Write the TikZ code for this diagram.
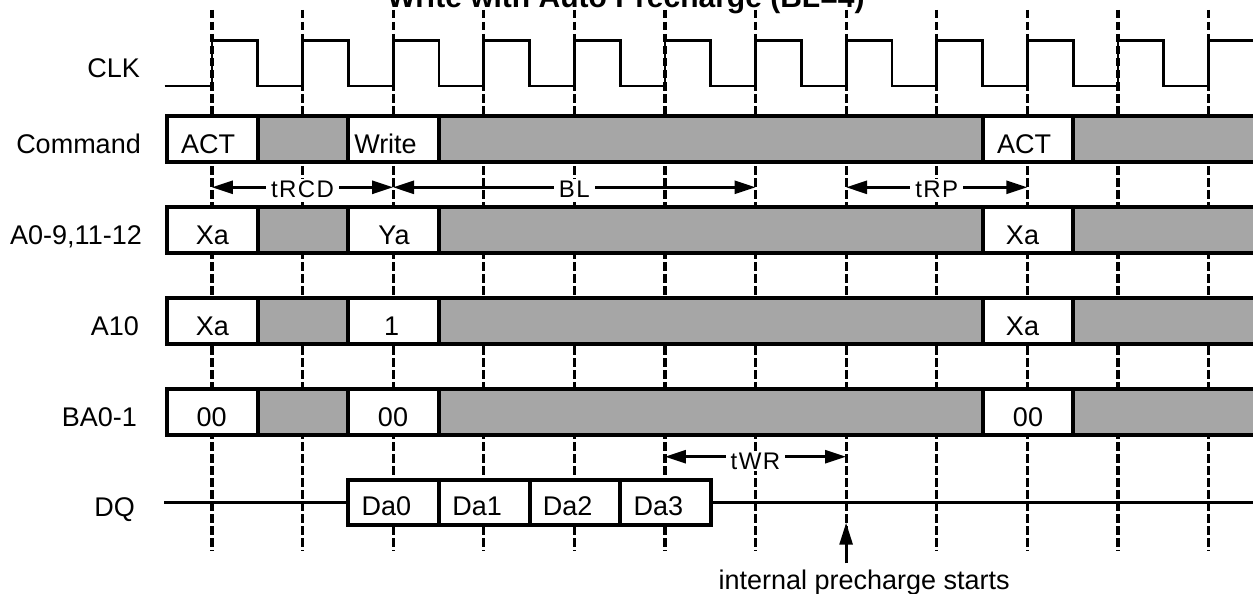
\documentclass[tikz,border=0pt]{standalone}
\usepackage{fontspec}
\setmainfont{Liberation Sans}
\usetikzlibrary{arrows.meta}
\definecolor{barg}{RGB}{166,166,166}
\begin{document}
\begin{tikzpicture}[x=1pt,y=-1pt,
  grid/.style={line width=3.2pt, dash pattern=on 8.5pt off 3.5pt},
  sig/.style={line width=2.8pt, line join=miter},
  bord/.style={line width=4pt},
  lab/.style={anchor=base east, inner sep=0pt, font=\fontsize{27}{32}\selectfont},
  val/.style={anchor=base, inner sep=0pt, font=\fontsize{27}{32}\selectfont},
  dim/.style={line width=2.8pt, {Triangle[length=21pt,width=13pt]}-{Triangle[length=21pt,width=13pt]}},
  dimlab/.style={fill=white, inner xsep=5pt, inner ysep=2pt, font=\fontsize{24}{28}\selectfont\addfontfeature{LetterSpace=6}},
]
\useasboundingbox (0,0) rectangle (1253,594);

% title
\node[anchor=base, inner sep=0pt, font=\fontsize{30}{36}\selectfont\bfseries] (title) at (626,8) {Write with Auto Precharge (BL=4)};

% clock edge grid lines
\foreach \k/\x in {0/211.9,1/302.5,2/393.1,3/483.7,4/574.3,5/664.9,6/755.5,7/846.1,8/936.7,9/1027.3,10/1117.9,11/1208.5}{
  \coordinate (gt\k) at (\x,10);
  \coordinate (gb\k) at (\x,551);
  \draw[grid] (gt\k) -- (gb\k);
}

% CLK
\draw[sig] (164.7,86) -- (211.9,86) |- (257.7,40.7) |- (302.5,86) |- (348.3,40.7) |- (393.1,86)
  |- (438.9,40.7) |- (483.7,86) |- (529.5,40.7) |- (574.3,86) |- (620.1,40.7) |- (664.9,86)
  |- (710.7,40.7) |- (755.5,86) |- (801.3,40.7) |- (846.1,86) |- (891.9,40.7) |- (936.7,86)
  |- (982.5,40.7) |- (1027.3,86) |- (1073.1,40.7) |- (1117.9,86) |- (1163.7,40.7) |- (1208.5,86)
  |- (1262,40.7);

% bus bars
\foreach \T in {116,207,298,389}{
  \pgfmathsetmacro{\B}{\T+46}
  \fill[white] (166.6,\T) rectangle (257.7,\B);
  \fill[barg] (257.7,\T) rectangle (348.3,\B);
  \fill[white] (348.3,\T) rectangle (438.9,\B);
  \fill[barg] (438.9,\T) rectangle (982.5,\B);
  \fill[white] (982.5,\T) rectangle (1073.1,\B);
  \fill[barg] (1073.1,\T) rectangle (1262,\B);
  \draw[bord, line join=miter] (1262,\T) -- (166.6,\T) -- (166.6,\B) -- (1262,\B);
  \foreach \d in {257.7,348.3,438.9,982.5,1073.1}{
    \draw[bord] (\d,\T) -- (\d,\B);
  }
}

% signal labels
\node[lab] (lclk) at (140,77.3) {CLK};
\node[lab] (lcmd) at (141,153) {Command};
\node[lab] (laddr) at (142,244) {A0-9,11-12};
\node[lab] (la10) at (139,335) {A10};
\node[lab] (lba) at (137,426) {BA0-1};
\node[lab] (ldq) at (135,516.5) {DQ};

% bar values
\node[val] (c1) at (208,153) {ACT};
\node[val] (c2) at (385.5,153) {Write};
\node[val] (c3) at (1024,153) {ACT};
\node[val] (a1) at (212.5,244) {Xa};
\node[val] (a2) at (394,244) {Ya};
\node[val] (a3) at (1022.5,244) {Xa};
\node[val] (b1) at (212.5,335) {Xa};
\node[val] (b2) at (391.7,335) {1};
\node[val] (b3) at (1022.5,335) {Xa};
\node[val] (e1) at (211.7,426) {00};
\node[val] (e2) at (393,426) {00};
\node[val] (e3) at (1028,426) {00};

% DQ
\coordinate (dqL) at (164,502.3);
\coordinate (dqA) at (348.3,502.3);
\coordinate (dqB) at (710.7,502.3);
\coordinate (dqR) at (1262,502.3);
\draw[sig] (dqL) -- (dqA);
\draw[sig] (dqB) -- (dqR);
\fill[white] (348.3,480) rectangle (710.7,525);
\draw[bord, line join=miter] (348.3,480) rectangle (710.7,525);
\foreach \d in {438.9,529.5,620.1}{
  \draw[bord] (\d,480) -- (\d,525);
}
\node[val] (q0) at (386.5,515.5) {Da0};
\node[val] (q1) at (477.1,515.5) {Da1};
\node[val] (q2) at (567.7,515.5) {Da2};
\node[val] (q3) at (658.3,515.5) {Da3};

% timing dimensions
\coordinate (d0) at (211.9,187.3);
\coordinate (d2) at (393.1,187.3);
\coordinate (d6) at (755.5,187.3);
\coordinate (d7) at (846.1,187.3);
\coordinate (d9) at (1027.3,187.3);
\draw[dim] (d0) -- (d2);
\draw[dim] (d2) -- (d6);
\draw[dim] (d7) -- (d9);
\node[dimlab] (tRCD) at (302.5,189.5) {tRCD};
\node[dimlab] (tBL) at (574.3,189.5) {BL};
\node[dimlab] (tRP) at (936.7,189.5) {tRP};

\coordinate (w5) at (664.9,456.7);
\coordinate (w7) at (846.1,456.7);
\draw[dim] (w5) -- (w7);
\node[dimlab] (tWR) at (755.5,461) {tWR};

% internal precharge marker
\coordinate (pcTail) at (846.1,563.3);
\coordinate (pcTip) at (846.1,522.7);
\draw[line width=2.8pt, -{Triangle[length=22pt,width=13pt]}] (pcTail) -- (pcTip);
\node[anchor=base west, inner sep=0pt, font=\fontsize{27}{32}\selectfont] (pctext) at (718.3,589) {internal precharge starts};
\end{tikzpicture}
\end{document}
